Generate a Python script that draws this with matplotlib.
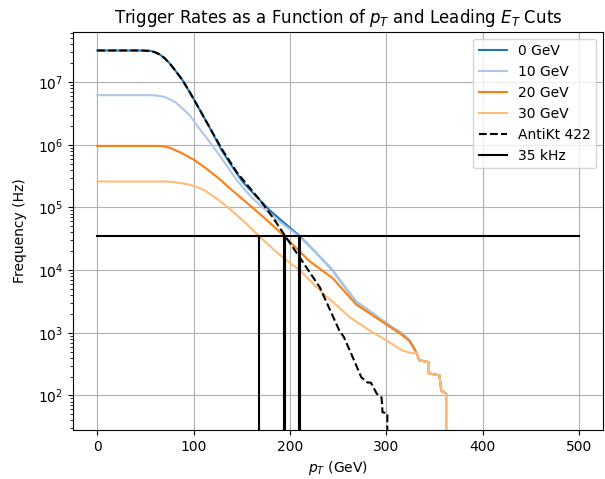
import numpy as np
import matplotlib
matplotlib.use("Agg")
import matplotlib.pyplot as plt

# cumulative trigger rates (pT in GeV, rate in Hz)
pt_0 = [0, 45, 55, 60, 65, 70, 75, 80, 88, 96, 106, 117, 129, 140, 151, 165, 179, 195, 210,
        227, 244, 256, 269, 281, 293, 305, 316, 324, 331, 334, 344, 344, 355, 357, 362, 362]
rate_0 = [3.2e7, 3.2e7, 3.15e7, 3.0e7, 2.75e7, 2.4e7, 2.0e7, 1.6e7, 1.1e7, 6.9e6, 3.7e6, 1.84e6, 8.2e5, 4.5e5, 2.55e5, 1.5e5, 9.0e4, 5.5e4, 3.5e4,
          1.9e4, 1.0e4, 5.6e3, 3.1e3, 2.3e3, 1.7e3, 1.25e3, 980, 760, 490, 365, 340, 225, 210, 120, 107, 1]

pt_10 = [0, 55, 62, 70, 81, 90, 96, 106, 117, 129, 145, 160, 175, 190, 209,
         227, 244, 256, 269, 281, 293, 305, 316, 324, 331, 334, 344, 344, 355, 357, 362, 362]
rate_10 = [6.2e6, 6.2e6, 6.1e6, 5.8e6, 4.8e6, 3.6e6, 2.96e6, 1.8e6, 1.1e6, 6.1e5, 2.7e5, 1.45e5, 9.0e4, 5.8e4, 3.5e4,
           1.9e4, 1.0e4, 5.6e3, 3.1e3, 2.3e3, 1.7e3, 1.25e3, 980, 760, 490, 365, 340, 225, 210, 120, 107, 1]

pt_20 = [0, 60, 67, 75, 86, 100, 112, 125, 138, 158, 175, 194, 220, 244, 269, 293, 316, 324,
         331, 334, 344, 344, 355, 357, 362, 362]
rate_20 = [9.6e5, 9.6e5, 9.5e5, 9.0e5, 7.6e5, 5.8e5, 4.3e5, 3.0e5, 2.0e5, 1.09e5, 6.5e4, 3.5e4, 1.4e4, 7.5e3, 2.8e3, 1.6e3, 930, 740,
           490, 365, 340, 225, 210, 120, 107, 1]

pt_30 = [0, 70, 78, 87, 96, 104, 112, 125, 137, 152, 168, 185, 200, 210, 234, 262, 282, 300, 316, 327,
         331, 334, 344, 344, 355, 357, 362, 362]
rate_30 = [2.6e5, 2.6e5, 2.55e5, 2.45e5, 2.3e5, 2.1e5, 1.85e5, 1.35e5, 9.6e4, 6.0e4, 3.5e4, 2.0e4, 1.3e4, 1.0e4, 4.3e3, 1.78e3, 1.1e3, 760, 525, 470,
           490, 365, 340, 225, 210, 120, 107, 1]

pt_akt = [0, 45, 55, 60, 65, 70, 75, 80, 88, 96, 106, 117, 130, 145, 169, 182, 195, 210, 231, 251, 256, 265,
          274, 280, 284, 290, 295, 296, 301, 301]
rate_akt = [3.2e7, 3.2e7, 3.15e7, 3.0e7, 2.75e7, 2.4e7, 2.0e7, 1.6e7, 1.1e7, 6.9e6, 3.7e6, 1.84e6, 8.2e5, 3.6e5, 1.3e5, 7.0e4, 3.5e4, 1.6e4, 5.3e3, 1.1e3, 850, 410,
            195, 162, 160, 107, 93, 54, 52, 1]

cuts = ['0 GeV', '10 GeV', '20 GeV', '30 GeV']
colors = ['#1f77b4', '#aec7e8', '#ff7f0e', '#ffbb78']

rate_limit = 35000
crossings = [168, 194, 195, 209, 210]

fig = plt.figure(figsize=(6.05, 4.79), dpi=100)
ax = fig.add_axes([0.121, 0.102, 0.876, 0.832])

for x, y, lab, c in zip([pt_0, pt_10, pt_20, pt_30], [rate_0, rate_10, rate_20, rate_30], cuts, colors):
    ax.plot(x, y, color=c, label=lab)
ax.plot(pt_akt, rate_akt, 'k--', label='AntiKt 422')
ax.plot([0, 500], [rate_limit, rate_limit], 'k-', label='35 kHz')
ax.vlines(crossings, 1, rate_limit, colors='k')

ax.set_yscale('log')
ax.set_xlim(-25, 525)
ax.set_ylim(28, 6.4e7)
ax.grid(True)
ax.set_title(r'Trigger Rates as a Function of $p_T$ and Leading $E_T$ Cuts')
ax.set_xlabel(r'$p_T$ (GeV)')
ax.set_ylabel('Frequency (Hz)', labelpad=8)
ax.legend(loc='upper right')

plt.savefig('out.png')
